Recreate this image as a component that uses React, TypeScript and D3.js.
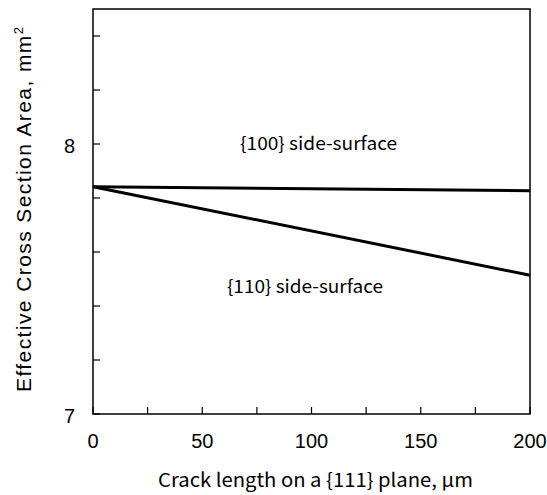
import React from "react";
import * as d3 from "d3";

const crackLength = [0, 200];
const area100 = [7.842, 7.827];
const area110 = [7.842, 7.514];
const xTicks = [0, 25, 50, 75, 100, 125, 150, 175, 200];
const xLabels = [0, 50, 100, 150, 200];
const yTicks = [7, 7.2, 7.4, 7.6, 7.8, 8, 8.2, 8.4];
const yLabels = [7, 8];
const seriesLabels = [
  { text: "{100} side-surface", x: 67.3, y: 7.978, len: 157 },
  { text: "{110} side-surface", x: 61.3, y: 7.448, len: 156 },
];

const W = 547, H = 495;
const L = 93, R = 530, T = 9, B = 414;

export default function App() {
  const x = d3.scaleLinear().domain([0, 200]).range([L, R]);
  const y = d3.scaleLinear().domain([7, 8.5]).range([B, T]);
  const line = d3.line<[number, number]>().x(d => x(d[0])).y(d => y(d[1]));
  const s100 = crackLength.map((c, i) => [c, area100[i]] as [number, number]);
  const s110 = crackLength.map((c, i) => [c, area110[i]] as [number, number]);
  const jp = "'Noto Sans CJK JP', sans-serif";
  const ar = "'Liberation Sans', Arial, sans-serif";
  return (
    <svg width={W} height={H} style={{ position: "absolute", left: 0, top: 0, background: "#fff" }}>
      <rect x={L} y={T} width={R - L} height={B - T} fill="none" stroke="#000" strokeWidth={1.5} />
      {xTicks.map(t => (
        <line key={"xt" + t} x1={x(t)} x2={x(t)} y1={B} y2={B - 7} stroke="#000" strokeWidth={1.2} />
      ))}
      {yTicks.map(t => (
        <line key={"yt" + t} x1={L} x2={L + 7} y1={y(t)} y2={y(t)} stroke="#000" strokeWidth={1.2} />
      ))}
      {xLabels.map(t => (
        <text key={"xl" + t} x={x(t)} y={448} textAnchor="middle" fontFamily={ar} fontSize={20} fill="#000">{t}</text>
      ))}
      {yLabels.map(t => (
        <text key={"yl" + t} x={75} y={y(t) + 9} textAnchor="end" fontFamily={ar} fontSize={20} fill="#000">{t}</text>
      ))}
      <path d={line(s100) || ""} fill="none" stroke="#000" strokeWidth={3} />
      <path d={line(s110) || ""} fill="none" stroke="#000" strokeWidth={3} />
      {seriesLabels.map(s => (
        <text key={s.text} x={x(s.x)} y={y(s.y)} fontFamily={jp} fontSize={18} fill="#000"
          textLength={s.len} lengthAdjust="spacingAndGlyphs">{s.text}</text>
      ))}
      <text x={158} y={487} fontFamily={jp} fontSize={19} fill="#000" textLength={315} lengthAdjust="spacingAndGlyphs">
        Crack length on a {"{111}"} plane, µm
      </text>
      <text transform={`translate(31,392) rotate(-90)`} fontFamily={ar} fontSize={21} fill="#000"
        textLength={365} lengthAdjust="spacing">
        Effective Cross Section Area, mm<tspan dy={-8} fontSize={13}>2</tspan>
      </text>
    </svg>
  );
}
